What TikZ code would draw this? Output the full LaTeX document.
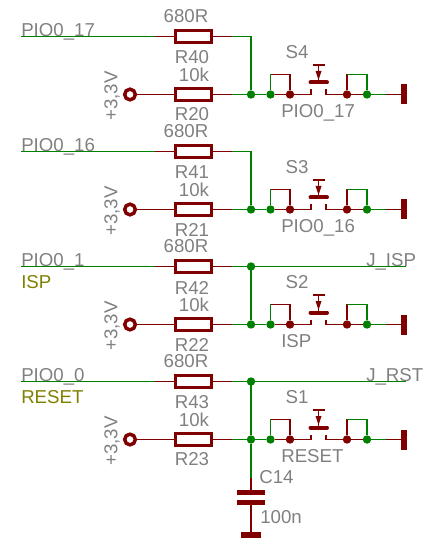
\documentclass[tikz,border=0pt]{standalone}
\usepackage{fontspec}
\setmainfont{Liberation Sans}
\usetikzlibrary{calc}
\definecolor{netgreen}{HTML}{008000}
\definecolor{pinred}{HTML}{800000}
\definecolor{labelgrey}{HTML}{808080}
\definecolor{netolive}{HTML}{808000}
\tikzset{
    net/.style={draw=netgreen,line width=0.85pt},
    pin/.style={draw=pinred,line width=0.85pt},
    resistor/.style={draw=pinred,fill=white,line width=2.6pt,rectangle,inner sep=0pt,outer sep=0pt,minimum width=27pt,minimum height=9pt},
    junction/.style={circle,fill=netgreen,inner sep=0pt,minimum size=6.3pt},
    pinjunction/.style={circle,fill=pinred,inner sep=0pt,minimum size=6.3pt},
    supply/.style={circle,draw=pinred,fill=white,line width=2.6pt,inner sep=0pt,outer sep=0pt,minimum size=8pt},
    txt/.style={text=labelgrey,inner sep=0pt,font=\fontsize{14}{16}\selectfont},
    netname/.style={txt,text=netolive}
}
\begin{document}
\begin{tikzpicture}[x=0.75pt,y=-0.75pt]
    \useasboundingbox (0,0) rectangle (428,541);

    % One row: resistors, supply and push button
    \foreach \n/\y/\sig/\ra/\rb/\sw/\lbl/\lx in {
        1/36.5/PIO0\_17/R40/R20/S4/PIO0\_17/281,
        2/151.5/PIO0\_16/R41/R21/S3/PIO0\_16/281,
        3/266.5/PIO0\_1/R42/R22/S2/ISP/281,
        4/381.5/PIO0\_0/R43/R23/S1/RESET/281}
    {
        \pgfmathsetmacro{\yb}{\y+58}
        % Series resistor and pull-up
        \node[resistor] (rs\n) at (193.5,\y) {};
        \node[resistor] (rp\n) at (193.5,\yb) {};
        \node[supply] (vcc\n) at (130,\yb) {};
        \coordinate (in\n) at (21,\y);
        \coordinate (ing\n) at (155,\y);
        \coordinate (out\n) at (232,\y);
        \coordinate (top\n) at (251,\y);
        \coordinate (outb\n) at (232,\yb);

        % Junctions along the lower net
        \node[junction] (ja\n) at (251,\yb) {};
        \node[junction] (jb\n) at (270.5,\yb) {};
        \node[pinjunction] (pa\n) at (290,\yb) {};
        \node[pinjunction] (pb\n) at (347,\yb) {};
        \node[junction] (jc\n) at (367,\yb) {};
        \coordinate (sl\n) at (311,\yb);
        \coordinate (sr\n) at (326,\yb);
        \coordinate (gw\n) at (386,\yb);
        \coordinate (gnd\n) at (404,\yb);

        % Wires
        \draw[net] (in\n) -- (ing\n);
        \draw[pin] (ing\n) -- (rs\n.west);
        \draw[pin] (rs\n.east) -- (out\n);
        \draw[net] (out\n) -- (top\n) -- (ja\n);
        \draw[pin] (vcc\n) -- (rp\n.west);
        \draw[pin] (rp\n.east) -- (outb\n);
        \draw[net] (outb\n) -- (ja\n);
        \draw[net] (ja\n) -- (jb\n);
        \draw[pin] (jb\n) -- (pa\n) -- (sl\n) -- ++(0,-5);
        \draw[pin] (pb\n) -- (sr\n) -- ++(0,-5);
        \draw[pin] (pb\n) -- (jc\n);
        \draw[net] (jc\n) -- (gw\n);
        \draw[pin] (gw\n) -- (gnd\n);

        % Bridges over the switch pins
        \draw[net] (jb\n) -- ++(0,-20) -- ++(19.5,0);
        \draw[pin] (pa\n) -- ++(0,-20) -- ++(-19.5,0);
        \draw[pin] (pb\n) -- ++(0,-20) -- ++(20,0);
        \draw[net] (jc\n) -- ++(0,-20) -- ++(-20,0);

        % Ground bar
        \draw[pinred,line width=4.5pt] ($(gnd\n)+(0,-10)$) -- ($(gnd\n)+(0,10)$);

        % Push button
        \draw[pinred,line width=3pt,line cap=round] (310.5,\yb-12) -- (327,\yb-12);
        \draw[pinred,line width=0.85pt] (318.5,\yb-12) -- (318.5,\yb-29.5);
        \draw[pinred,line width=0.85pt] (313,\yb-29.5) -- (325,\yb-29.5);
        \fill[pinred] (318.5,\yb-14.5) -- (315.5,\yb-23.5) -- (321.5,\yb-23.5) -- cycle;

        % Labels
        \node[txt,anchor=base west] (sig\n) at (21,\y) {\sig};
        \node[txt] (va\n) at (186,\y-20) {680R};
        \node[txt] (na\n) at (192,\y+21) {\ra};
        \node[txt] (vb\n) at (194,\yb-19.5) {10k};
        \node[txt] (nb\n) at (192,\yb+20) {\rb};
        \node[txt,rotate=90] (vl\n) at (112,\yb+1.5) {+3,3V};
        \node[txt] (sw\n) at (297,\y+15.5) {\sw};
        \node[txt,anchor=base west] (lbl\n) at (\lx,\yb+23) {\lbl};
    }

    % Nets leaving to the right
    \coordinate (jisp) at (406,266.5);
    \coordinate (jrst) at (406,381.5);
    \node[junction] (t3) at (top3) {};
    \node[junction] (t4) at (top4) {};
    \draw[net] (t3) -- (jisp);
    \draw[net] (t4) -- (jrst);
    \node[txt,anchor=base west] at (366,266) {J\_ISP};
    \node[txt,anchor=base west] at (366,381) {J\_RST};
    \node[netname,anchor=base west] at (21,288) {ISP};
    \node[netname,anchor=base west] at (21,403) {RESET};

    % Capacitor to ground
    \coordinate (cnet) at (251,478);
    \coordinate (capa) at (251,492);
    \coordinate (capb) at (251,502);
    \coordinate (cgnd) at (251,535);
    \draw[net] (ja4) -- (cnet);
    \draw[pin] (cnet) -- (capa);
    \draw[pin] (capb) -- (cgnd);
    \draw[pinred,line width=3.75pt] (237,492) -- (265,492);
    \draw[pinred,line width=3.75pt] (237,502) -- (265,502);
    \draw[pinred,line width=4.5pt] (241,535) -- (261,535);
    \node[txt,anchor=base west] (c14) at (259,483) {C14};
    \node[txt,anchor=base west] (c100) at (260,523) {100n};
\end{tikzpicture}
\end{document}
